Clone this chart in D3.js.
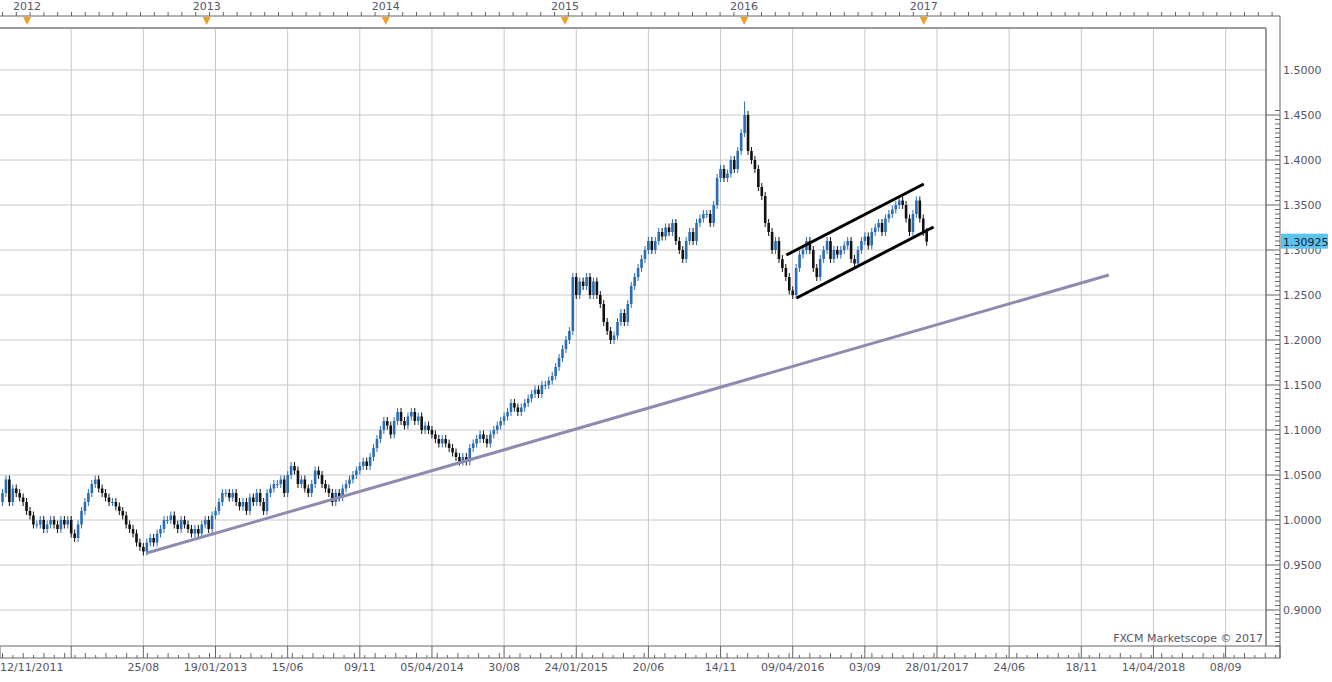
<!DOCTYPE html>
<html><head><meta charset="utf-8">
<script src="https://cdn.jsdelivr.net/npm/d3@7"></script>
<style>body{margin:0;background:#fff}text{font-family:Verdana,"DejaVu Sans",sans-serif}</style>
</head><body><svg id="c" width="1332" height="682"></svg>
<script>
const startDate = "2011-11-12";
const closes = [
1.03,1.045,1.02,1.035,1.03,1.025,1.02,1.01,1.005,0.995,
0.995,1.0,0.99,0.995,1.0,0.995,0.99,1.0,0.995,1.0,
0.985,0.98,0.995,1.01,1.02,1.03,1.04,1.045,1.035,1.03,
1.025,1.02,1.02,1.015,1.01,1.005,0.995,0.99,0.985,0.975,
0.97,0.965,0.975,0.98,0.975,0.985,0.99,1.0,1.0,1.005,
0.995,0.99,1.0,0.995,0.99,0.985,0.99,0.985,0.995,1.0,
0.99,1.005,1.01,1.02,1.03,1.03,1.025,1.03,1.02,1.015,
1.02,1.01,1.025,1.02,1.03,1.02,1.01,1.03,1.035,1.04,
1.04,1.045,1.03,1.05,1.06,1.055,1.04,1.045,1.035,1.03,
1.04,1.055,1.05,1.04,1.035,1.03,1.02,1.03,1.025,1.035,
1.04,1.045,1.05,1.055,1.06,1.065,1.06,1.07,1.08,1.09,
1.10,1.11,1.105,1.095,1.11,1.12,1.11,1.105,1.115,1.12,
1.11,1.115,1.10,1.105,1.10,1.095,1.09,1.085,1.09,1.085,
1.08,1.075,1.07,1.065,1.07,1.065,1.08,1.085,1.09,1.095,
1.09,1.085,1.095,1.10,1.105,1.11,1.115,1.12,1.13,1.125,
1.12,1.125,1.13,1.135,1.14,1.145,1.14,1.15,1.15,1.155,
1.16,1.17,1.18,1.19,1.20,1.21,1.27,1.25,1.265,1.26,
1.27,1.25,1.265,1.25,1.24,1.22,1.21,1.20,1.205,1.22,
1.23,1.22,1.24,1.26,1.27,1.28,1.29,1.30,1.31,1.30,
1.31,1.32,1.315,1.325,1.32,1.33,1.31,1.30,1.29,1.31,
1.32,1.31,1.33,1.335,1.34,1.34,1.33,1.35,1.38,1.39,
1.38,1.385,1.40,1.39,1.41,1.43,1.45,1.41,1.40,1.39,
1.37,1.36,1.33,1.32,1.30,1.31,1.29,1.28,1.27,1.255,
1.25,1.28,1.295,1.30,1.31,1.30,1.28,1.27,1.29,1.30,
1.31,1.29,1.30,1.295,1.30,1.305,1.31,1.29,1.285,1.30,
1.31,1.315,1.305,1.32,1.325,1.33,1.32,1.335,1.34,1.345,
1.35,1.355,1.35,1.335,1.32,1.34,1.355,1.335,1.32,1.30925];
const firstOpen = 1.02;
const peakHigh = 1.465;
const yTicks = [0.90,0.95,1.00,1.05,1.10,1.15,1.20,1.25,1.30,1.35,1.40,1.45,1.50];
const gridDates = ["2012-03-31","2012-08-25","2013-01-19","2013-06-15","2013-11-09","2014-04-05","2014-08-30","2015-01-24","2015-06-20","2015-11-14","2016-04-09","2016-09-03","2017-01-28","2017-06-24","2017-11-18","2018-04-14","2018-09-08"];
const bottomLabels = [["2011-11-12","12/11/2011"],["2012-08-25","25/08"],["2013-01-19","19/01/2013"],["2013-06-15","15/06"],["2013-11-09","09/11"],["2014-04-05","05/04/2014"],["2014-08-30","30/08"],["2015-01-24","24/01/2015"],["2015-06-20","20/06"],["2015-11-14","14/11"],["2016-04-09","09/04/2016"],["2016-09-03","03/09"],["2017-01-28","28/01/2017"],["2017-06-24","24/06"],["2017-11-18","18/11"],["2018-04-14","14/04/2018"],["2018-09-08","08/09"]];
const yearLabels = ["2012","2013","2014","2015","2016","2017"];
const trendLine = [["2012-09-01",0.9633],["2018-01-13",1.2722]];
const channelUpper = [["2016-03-27",1.2944],["2017-01-01",1.3733]];
const channelLower = [["2016-04-17",1.2467],["2017-01-21",1.3256]];
const lastPrice = 1.30925;

const P = d3.timeParse("%Y-%m-%d");
const svg = d3.select("#c");
const L=0, R=1266, T=28, B=646;
const x = d3.scaleTime().domain([P("2011-11-12"),P("2017-01-28")]).range([2.5,937]);
const y = d3.scaleLinear().domain([0.9,1.5]).range([610,70]);
const gray="#c8c8c8", axc="#666";

gridDates.forEach(d=>svg.append("line").attr("x1",x(P(d))).attr("x2",x(P(d))).attr("y1",T).attr("y2",B).attr("stroke",gray));
yTicks.forEach(v=>svg.append("line").attr("x1",L).attr("x2",R).attr("y1",y(v)).attr("y2",y(v)).attr("stroke",gray));
svg.append("line").attr("x1",0).attr("x2",R).attr("y1",T).attr("y2",T).attr("stroke","#999").attr("stroke-width",2);
svg.append("line").attr("x1",R).attr("x2",R).attr("y1",T).attr("y2",B).attr("stroke","#999").attr("stroke-width",2);
const ax=1280;
svg.append("line").attr("x1",ax).attr("x2",ax).attr("y1",16).attr("y2",B+12).attr("stroke",axc);
d3.range(0,122).map(i=>0.85+i*0.005).forEach(v=>{const yy=y(v); if(yy<18||yy>B) return;
 const major=Math.abs(Math.round(v*20)-v*20)<1e-6;
 svg.append("line").attr("x1",major?ax-14:ax-5).attr("x2",ax).attr("y1",yy).attr("y2",yy).attr("stroke",axc);});
yTicks.forEach(v=>svg.append("text").attr("x",1283).attr("y",y(v)+4).attr("font-size",11).attr("fill","#556").text(v.toFixed(4)));
svg.append("line").attr("x1",0).attr("x2",ax).attr("y1",16).attr("y2",16).attr("stroke",axc);
d3.range(-2,100).forEach(i=>{const xx=2.5+i*3.45*4; if(xx<0||xx>ax) return;
 svg.append("line").attr("x1",xx).attr("x2",xx).attr("y1",12).attr("y2",16).attr("stroke",axc);});
yearLabels.forEach(yr=>{const xx=x(P(yr+"-01-01"));
 svg.append("text").attr("x",xx).attr("y",10).attr("text-anchor","middle").attr("font-size",11).attr("fill","#556").text(yr);
 svg.append("path").attr("d",`M${xx-4},17L${xx+4},17L${xx},25Z`).attr("fill","#f0a020");});
svg.append("rect").attr("x",0).attr("y",B).attr("width",ax).attr("height",12).attr("fill","none").attr("stroke",axc);
gridDates.forEach(d=>svg.append("line").attr("x1",x(P(d))).attr("x2",x(P(d))).attr("y1",B).attr("y2",B+12).attr("stroke",axc));
d3.range(0,200).forEach(i=>{const xx=2.5+i*3.45*3; if(xx>ax) return;
 svg.append("line").attr("x1",xx).attr("x2",xx).attr("y1",B+12).attr("y2",B+(i%2?9:7)).attr("stroke",axc);});
bottomLabels.forEach((d,i)=>svg.append("text").attr("x",i==0?0:x(P(d[0]))).attr("y",671).attr("text-anchor",i==0?"start":"middle").attr("font-size",11).attr("fill","#556").text(d[1]));
svg.append("text").attr("x",1263).attr("y",642).attr("text-anchor","end").attr("font-size",11).attr("fill","#556").text("FXCM Marketscope © 2017");

const s0=P(startDate);
const data=closes.map((c,i)=>({d:d3.timeDay.offset(s0,7*i),o:i?closes[i-1]:firstOpen,c}));
const maxC=d3.max(closes);
const g=svg.append("g");
data.forEach(d=>{const xx=x(d.d), up=d.c>=d.o, col=up?"#2a6db5":"#111";
 const y1=y(Math.max(d.o,d.c)), y2=y(Math.min(d.o,d.c));
 const top = d.c===maxC ? y(peakHigh) : y1-4;
 g.append("line").attr("x1",xx).attr("x2",xx).attr("y1",top).attr("y2",y2+4).attr("stroke",col);
 g.append("rect").attr("x",xx-1.3).attr("width",2.6).attr("y",y1).attr("height",Math.max(1,y2-y1)).attr("fill",col);});

const line=(pts,col,w)=>svg.append("line").attr("x1",x(P(pts[0][0]))).attr("y1",y(pts[0][1])).attr("x2",x(P(pts[1][0]))).attr("y2",y(pts[1][1])).attr("stroke",col).attr("stroke-width",w);
line(trendLine,"#8d8bb0",3);
line(channelUpper,"#000",3);
line(channelLower,"#000",3);

svg.append("rect").attr("x",1281).attr("y",y(lastPrice)-8).attr("width",47).attr("height",15).attr("fill","#5cc3ee");
svg.append("text").attr("x",1283).attr("y",y(lastPrice)+4).attr("font-size",11).attr("fill","#123").text(lastPrice.toFixed(5));
</script></body></html>
